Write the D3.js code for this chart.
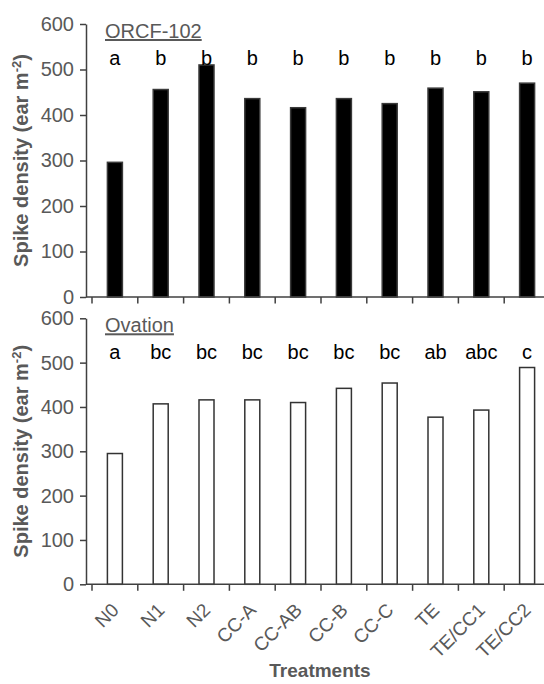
<!DOCTYPE html>
<html>
<head>
<meta charset="utf-8">
<script src="https://cdn.jsdelivr.net/npm/d3@7"></script>
<style>
  html, body { margin: 0; padding: 0; background: #fff; }
  svg { display: block; font-family: "Liberation Sans", Arial, sans-serif; }
</style>
</head>
<body>
<svg id="chart" width="544" height="684"></svg>
<script>
// Treatments along the x axis
const treatments = ["N0", "N1", "N2", "CC-A", "CC-AB", "CC-B", "CC-C", "TE", "TE/CC1", "TE/CC2"];

// Spike density (ear m-2) per treatment, one array per cultivar
const orcfValues = [296, 456, 510, 436, 416, 436, 425, 459, 451, 470];
const ovationValues = [295, 407, 416, 416, 410, 442, 454, 377, 393, 489];

// Mean-separation letters drawn above each bar
const orcfLetters = ["a", "b", "b", "b", "b", "b", "b", "b", "b", "b"];
const ovationLetters = ["a", "bc", "bc", "bc", "bc", "bc", "bc", "ab", "abc", "c"];

// Y axis tick values
const yTicks = [0, 100, 200, 300, 400, 500, 600];

const panels = [
  { name: "ORCF-102", values: orcfValues, letters: orcfLetters, top: 24, bottom: 297, fill: "#000", stroke: "#3a3a3a" },
  { name: "Ovation", values: ovationValues, letters: ovationLetters, top: 318.3, bottom: 584.3, fill: "#fff", stroke: "#333" }
];

const svg = d3.select("#chart");
const axisColor = "#404040";
const labelGray = "#595959";
const yAxisX = 86;

const x = d3.scaleBand().domain(treatments).range([92, 550]).padding(0);
const barW = 15;

panels.forEach((p, pi) => {
  const y = d3.scaleLinear().domain([0, 600]).range([p.bottom, p.top]);
  const g = svg.append("g");

  // bars
  g.selectAll("rect.bar")
    .data(p.values)
    .join("rect")
    .attr("class", "bar")
    .attr("x", (d, i) => x(treatments[i]) + x.bandwidth() / 2 - barW / 2)
    .attr("y", d => y(d))
    .attr("width", barW)
    .attr("height", d => y(0) - y(d))
    .attr("fill", p.fill)
    .attr("stroke", p.stroke)
    .attr("stroke-width", 1.5);

  // y axis
  const yAxis = g.append("g")
    .attr("transform", `translate(${yAxisX},0)`)
    .call(d3.axisLeft(y).tickValues(yTicks).tickSize(6).tickPadding(6).tickSizeOuter(0));
  yAxis.select(".domain").attr("stroke", axisColor).attr("stroke-width", 1.5);
  yAxis.selectAll(".tick line").attr("stroke", axisColor).attr("stroke-width", 1.5);
  yAxis.selectAll(".tick text")
    .attr("fill", labelGray)
    .style("font-size", "20px")
    .style("font-family", "'Liberation Sans', Arial, sans-serif");

  // x axis: baseline and ticks at category boundaries
  g.append("line")
    .attr("x1", yAxisX).attr("x2", x.range()[1])
    .attr("y1", y(0)).attr("y2", y(0))
    .attr("stroke", axisColor).attr("stroke-width", 1.5);
  g.selectAll("line.xtick")
    .data(treatments)
    .join("line")
    .attr("class", "xtick")
    .attr("x1", d => x(d)).attr("x2", d => x(d))
    .attr("y1", y(0)).attr("y2", y(0) + 6.5)
    .attr("stroke", axisColor).attr("stroke-width", 1.5);

  // panel title
  g.append("text")
    .attr("x", 105)
    .attr("y", p.top + 14)
    .attr("fill", labelGray)
    .style("font-size", "20px")
    .style("text-decoration", "underline")
    .text(p.name);

  // significance letters
  g.selectAll("text.letter")
    .data(p.letters)
    .join("text")
    .attr("class", "letter")
    .attr("x", (d, i) => x(treatments[i]) + x.bandwidth() / 2)
    .attr("y", p.top + 40.5)
    .attr("text-anchor", "middle")
    .attr("fill", "#000")
    .style("font-size", "20px")
    .text(d => d);

  // y axis title
  const cy = (p.top + p.bottom) / 2;
  const yt = g.append("text")
    .attr("transform", `translate(28,${cy}) rotate(-90)`)
    .attr("text-anchor", "middle")
    .attr("fill", labelGray)
    .style("font-size", "20px")
    .style("font-weight", "bold");
  yt.append("tspan").text("Spike density (ear m");
  yt.append("tspan").attr("baseline-shift", "super").style("font-size", "13px").text("-2");
  yt.append("tspan").text(")");

  // treatment labels under the lower panel
  if (pi === panels.length - 1) {
    g.selectAll("text.xlab")
      .data(treatments)
      .join("text")
      .attr("class", "xlab")
      .attr("transform", d => `translate(${x(d) + x.bandwidth() / 2 + 5},${y(0) + 27}) rotate(-45)`)
      .attr("text-anchor", "end")
      .attr("fill", labelGray)
      .style("font-size", "19px")
      .text(d => d);
  }
});

// x axis title
svg.append("text")
  .attr("x", 320)
  .attr("y", 677)
  .attr("text-anchor", "middle")
  .attr("fill", labelGray)
  .style("font-size", "19px")
  .style("font-weight", "bold")
  .text("Treatments");
</script>
</body>
</html>
